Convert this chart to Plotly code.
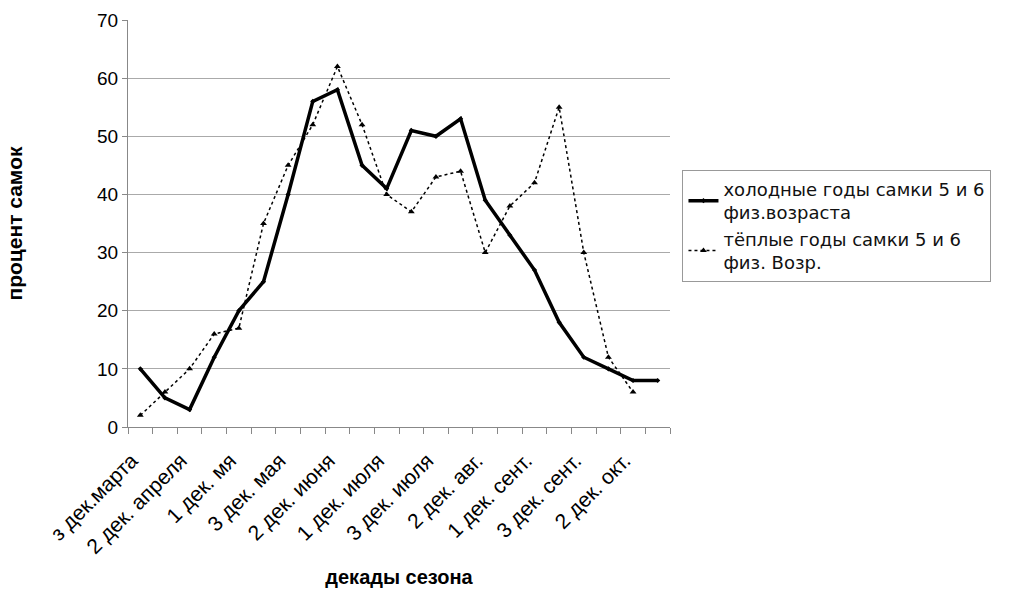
import plotly.graph_objects as go

# Decades of the season (one per point); every second one is labelled on the axis
categories = [
    "3 дек. марта", "1 дек. апреля", "2 дек. апреля", "3 дек. апреля",
    "1 дек. мая", "2 дек. мая", "3 дек. мая", "1 дек. июня",
    "2 дек. июня", "3 дек. июня", "1 дек. июля", "2 дек. июля",
    "3 дек. июля", "1 дек. авг.", "2 дек. авг.", "3 дек. авг.",
    "1 дек. сент.", "2 дек. сент.", "3 дек. сент.", "1 дек. окт.",
    "2 дек. окт.", "3 дек. окт.",
]
tick_labels = [
    "з дек.марта", "2 дек. апреля", "1 дек. мя", "3 дек. мая",
    "2 дек. июня", "1 дек. июля", "3 дек. июля", "2 дек. авг.",
    "1 дек. сент.", "3 дек. сент.", "2 дек. окт.",
]

# Percentage of females, physiological age 5 and 6
cold_years = [10, 5, 3, 12, 20, 25, 40, 56, 58, 45, 41, 51, 50, 53,
              39, 33, 27, 18, 12, 10, 8, 8]
warm_years = [2, 6, 10, 16, 17, 35, 45, 52, 62, 52, 40, 37, 43, 44,
              30, 38, 42, 55, 30, 12, 6, None]

y_ticks = [0, 10, 20, 30, 40, 50, 60, 70]

x = list(range(len(categories)))
FONT = "Liberation Sans, Arial, sans-serif"
WIDE_FONT = "DejaVu Sans, Liberation Sans, sans-serif"

fig = go.Figure()
fig.add_trace(go.Scatter(
    x=x, y=cold_years, mode="lines+markers",
    name="холодные годы самки 5 и 6<br>физ.возраста",
    line=dict(color="black", width=3.5),
    marker=dict(symbol="diamond", size=4, color="black"),
))
fig.add_trace(go.Scatter(
    x=x, y=warm_years, mode="lines+markers",
    name="тёплые годы самки 5 и 6<br>физ. Возр.",
    line=dict(color="black", width=1.5, dash="dot"),
    marker=dict(symbol="triangle-up", size=6, color="black"),
))

fig.update_layout(
    width=1011, height=589,
    margin=dict(l=128, r=341, t=20, b=162),
    paper_bgcolor="white", plot_bgcolor="white",
    font=dict(family=FONT, color="black", size=16),
    showlegend=True,
    legend=dict(
        x=1.023, y=0.632, xanchor="left", yanchor="top",
        bgcolor="white", bordercolor="#999999", borderwidth=1,
        font=dict(family=WIDE_FONT, size=18, color="#111111"),
        tracegroupgap=2,
    ),
)

# labels sit slightly left of the category centre, as rotated labels do
label_pos = [i - 0.35 for i in x[::2]]

fig.update_xaxes(
    range=[-0.5, len(categories) - 0.5],
    tickmode="array",
    tickvals=label_pos, ticktext=tick_labels,
    tickangle=-45, ticks="outside", ticklen=12, tickcolor="rgba(0,0,0,0)",
    tickfont=dict(family=FONT, size=21, color="black"),
    minor=dict(tickmode="array",
               tickvals=[i - 0.5 for i in range(len(categories) + 1)],
               ticks="outside", ticklen=6, tickcolor="#888888", showgrid=False),
    showgrid=False, zeroline=False, automargin=False,
    showline=True, linecolor="#888888", linewidth=1,
    title=dict(text="<b>декады сезона</b>", standoff=12,
               font=dict(family=FONT, size=20, color="black")),
)
fig.update_yaxes(
    range=[0, 70], tickmode="array", tickvals=y_ticks,
    ticks="outside", ticklen=5, tickcolor="#888888",
    tickfont=dict(family=FONT, size=19, color="black"),
    showgrid=True, gridcolor="#aaaaaa", gridwidth=1,
    zeroline=False, showline=True, linecolor="#888888", linewidth=1,
    automargin=False,
    title=dict(text="<b>процент самок</b>", standoff=68,
               font=dict(family=FONT, size=21, color="black")),
)

fig.write_html("out.html")
